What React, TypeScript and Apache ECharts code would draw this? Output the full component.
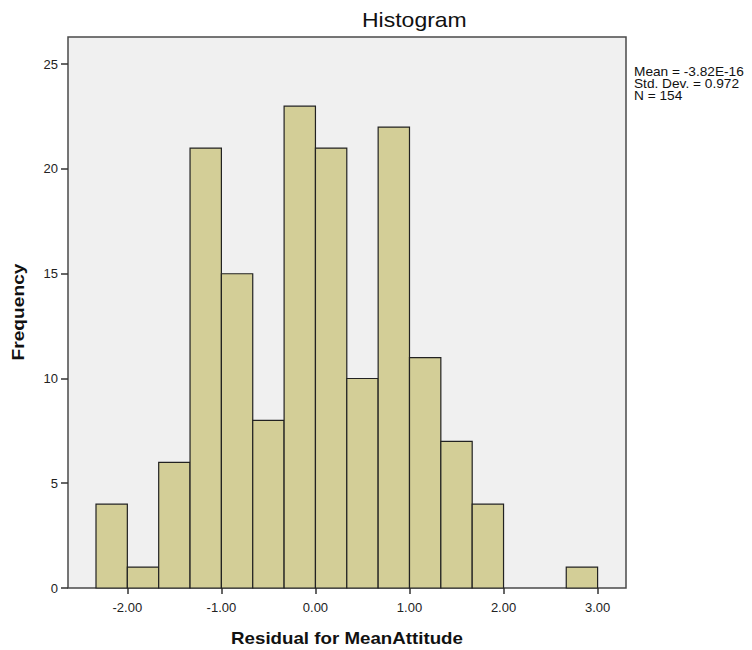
import React, { useEffect, useRef } from "react";
import * as echarts from "echarts";

const binStarts = [-2.3333, -2.0, -1.6667, -1.3333, -1.0, -0.6667, -0.3333, 0.0, 0.3333, 0.6667, 1.0, 1.3333, 1.6667, 2.0, 2.3333, 2.6667];
const binWidth = 0.3333;
const counts = [4, 1, 6, 21, 15, 8, 23, 21, 10, 22, 11, 7, 4, 0, 0, 1];
const xTicks = [-2, -1, 0, 1, 2, 3];
const yTicks = [0, 5, 10, 15, 20, 25];
const statsLines = ["Mean = -3.82E-16", "Std. Dev. = 0.972", "N = 154"];

export default function App() {
  const ref = useRef<HTMLDivElement>(null);
  useEffect(() => {
    if (!ref.current) return;
    const chart = echarts.init(ref.current, null, { renderer: "svg" });
    const data = binStarts
      .map((s, i) => [s, s + binWidth, counts[i]])
      .filter((d) => d[2] > 0);
    const font = "'Liberation Sans', Arial, sans-serif";
    chart.setOption({
      animation: false,
      backgroundColor: "#ffffff",
      grid: {
        left: 68,
        top: 37,
        right: 126,
        bottom: 62,
        show: true,
        backgroundColor: "#F0F0F0",
        borderColor: "#4a4a4a",
        borderWidth: 1.5,
      },
      xAxis: {
        type: "value",
        min: -2.631,
        max: 3.302,
        axisLine: { show: false, onZero: false },
        splitLine: { show: false },
        axisTick: { show: true, customValues: xTicks, length: 6, lineStyle: { color: "#333", width: 1.5 } },
        axisLabel: {
          customValues: xTicks,
          formatter: (v: number) => v.toFixed(2),
          margin: 13,
          color: "#222",
          fontSize: 13,
          fontFamily: font,
        },
      },
      yAxis: {
        type: "value",
        min: 0,
        max: 26.3,
        axisLine: { show: false, onZero: false },
        splitLine: { show: false },
        axisTick: { show: true, customValues: yTicks, length: 7, lineStyle: { color: "#333", width: 1.5 } },
        axisLabel: {
          customValues: yTicks,
          margin: 10,
          color: "#222",
          fontSize: 13,
          fontFamily: font,
        },
      },
      series: [
        {
          type: "custom",
          data,
          encode: { x: [0, 1], y: 2 },
          renderItem: (params: any, api: any) => {
            const x0 = api.value(0);
            const x1 = api.value(1);
            const c = api.value(2);
            const p0 = api.coord([x0, c]);
            const p1 = api.coord([x1, 0]);
            return {
              type: "rect",
              shape: { x: p0[0], y: p0[1], width: p1[0] - p0[0], height: p1[1] - p0[1] },
              style: { fill: "#D3CE97", stroke: "#222", lineWidth: 1.2 },
            };
          },
        },
      ],
      graphic: [
        {
          type: "text",
          x: 362,
          y: 20,
          scaleX: 1.15,
          style: { text: "Histogram", fill: "#111", font: `20px ${font}`, align: "left", verticalAlign: "middle" },
        },
        {
          type: "text",
          x: 347,
          y: 638,
          scaleX: 1.17,
          style: { text: "Residual for MeanAttitude", fill: "#111", font: `bold 16px ${font}`, align: "center", verticalAlign: "middle" },
        },
        {
          type: "text",
          x: 19,
          y: 312,
          rotation: Math.PI / 2,
          scaleX: 1.2,
          style: { text: "Frequency", fill: "#111", font: `bold 16px ${font}`, align: "center", verticalAlign: "middle" },
        },
        ...statsLines.map((t, i) => ({
          type: "text",
          x: 634,
          y: 72 + i * 11.7,
          scaleX: 1.14,
          style: { text: t, fill: "#111", font: `12px ${font}`, align: "left", verticalAlign: "middle" },
        })),
      ],
    });
    return () => chart.dispose();
  }, []);
  return <div ref={ref} style={{ position: "absolute", left: 0, top: 0, width: 752, height: 650 }} />;
}
